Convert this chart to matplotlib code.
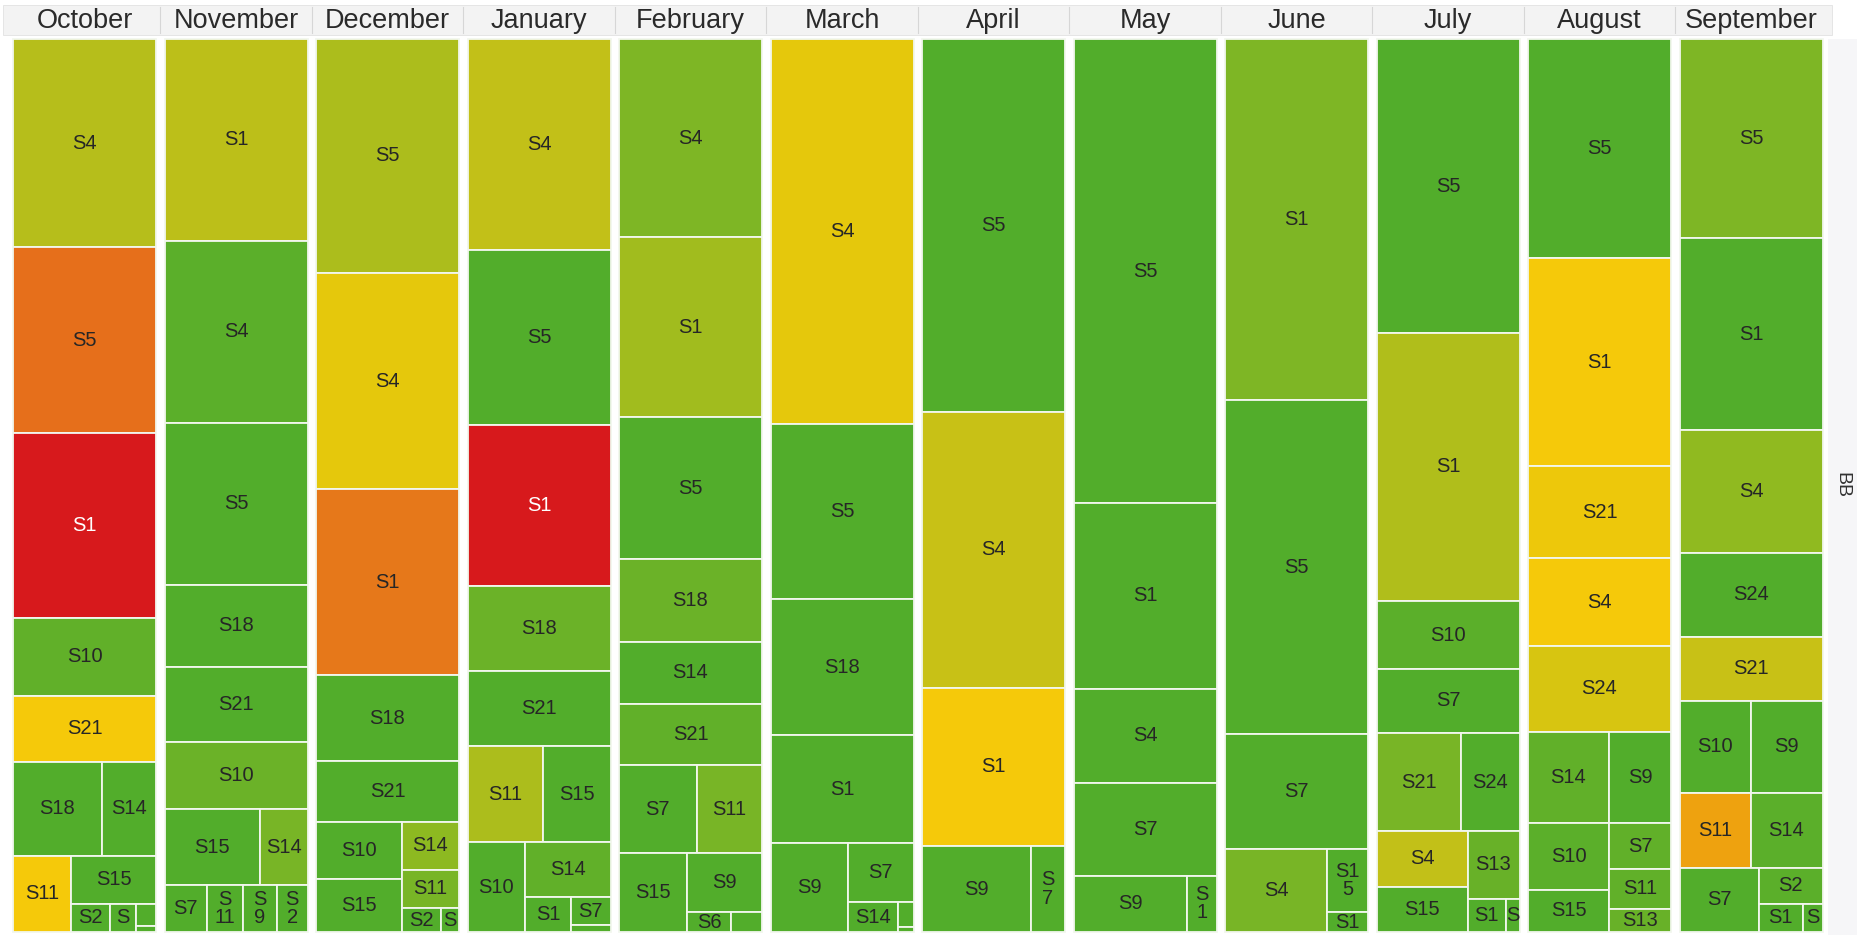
import matplotlib
matplotlib.use('Agg')
import matplotlib.pyplot as plt
from matplotlib.patches import Rectangle
from matplotlib.colors import LinearSegmentedColormap

plt.rcParams['font.family'] = ['Liberation Sans', 'DejaVu Sans']

months = ['October', 'November', 'December', 'January', 'February', 'March',
          'April', 'May', 'June', 'July', 'August', 'September']
row_header = 'BB'

# treemap per month: (label, size, score); lists alternate stacking direction
# (top level stacks downwards, next level side by side, and so on)
october = [
    ('S4', 29744, 0.69), ('S5', 26598, 0.15), ('S1', 26312, 0.0),
    ('S10', 11154, 0.95), ('S21', 9438, 0.40),
    [('S18', 8366, 1.0), ('S14', 5076, 1.0)],
    [('S11', 4408, 0.40),
     [('S15', 4080, 1.0), [('S2', 1092, 1.0), ('S', 728, 1.0), [('', 440, 1.0), ('', 120, 1.0)]]]],
]
november = [
    ('S1', 28743, 0.66), ('S4', 25883, 0.97), ('S5', 23166, 1.0),
    ('S18', 11583, 1.0), ('S21', 10725, 1.0), ('S10', 9581, 0.92),
    [('S15', 7238, 1.0), ('S14', 3619, 0.88)],
    [('S7', 1974, 1.0), ('S\n11', 1645, 1.0), ('S\n9', 1598, 1.0), ('S\n2', 1410, 1.0)],
]
december = [
    ('S5', 33462, 0.72), ('S4', 31031, 0.5), ('S1', 26598, 0.2),
    ('S18', 12298, 1.0), ('S21', 8723, 1.0),
    [[('S10', 4930, 1.0), ('S15', 4505, 1.0)],
     [('S14', 2736, 0.81), ('S11', 2223, 0.88), [('S2', 936, 1.0), ('S', 432, 1.0)]]],
]
january = [
    ('S4', 30173, 0.63), ('S5', 24882, 1.0), ('S1', 23023, 0.0),
    ('S18', 12155, 0.92), ('S21', 10725, 1.0),
    [('S11', 7275, 0.72), ('S15', 6499, 1.0)],
    [('S10', 5130, 1.0),
     [('S14', 4675, 0.95), [('S1', 1610, 1.0), [('S7', 1092, 1.0), ('', 273, 1.0)]]]],
]
february = [
    ('S4', 28314, 0.86), ('S1', 25740, 0.75), ('S5', 20163, 1.0),
    ('S18', 11869, 0.92), ('S14', 8866, 1.0), ('S21', 8723, 0.95),
    [('S7', 6853, 1.0), ('S11', 5785, 0.88)],
    [('S15', 5372, 1.0), [('S9', 4366, 1.0), [('S6', 860, 1.0), ('', 620, 1.0)]]],
]
march = [
    ('S4', 55055, 0.5), ('S5', 25025, 1.0), ('S18', 19448, 1.0), ('S1', 15301, 1.0),
    [('S9', 6930, 1.0), [('S7', 3900, 1.0), [('S14', 1500, 1.0), [('', 375, 1.0), ('', 75, 1.0)]]]],
]
april = [
    ('S5', 53196, 1.0), ('S4', 39468, 0.6), ('S1', 22594, 0.4),
    [('S9', 9309, 1.0), ('S\n7', 2958, 1.0)],
]
may = [
    ('S5', 66352, 1.0), ('S1', 26455, 1.0), ('S4', 13442, 1.0), ('S7', 13299, 1.0),
    [('S9', 6384, 1.0), ('S\n1', 1653, 1.0)],
]
june = [
    ('S1', 51623, 0.86), ('S5', 47619, 1.0), ('S7', 16445, 1.0),
    [('S4', 8484, 0.88), [('S1\n5', 2560, 1.0), ('S1', 800, 1.0)]],
]
july = [
    ('S5', 42042, 1.0), ('S1', 38324, 0.71), ('S10', 9724, 0.97), ('S7', 9152, 1.0),
    [('S21', 8232, 0.88), ('S24', 5782, 1.0)],
    [[('S4', 5096, 0.63), ('S15', 4095, 1.0)],
     [('S13', 3536, 0.93), [('S1', 1254, 1.0), ('S', 462, 1.0)]]],
]
august = [
    ('S5', 31317, 1.0), ('S1', 29744, 0.4), ('S21', 13156, 0.45),
    ('S4', 12584, 0.4), ('S24', 12298, 0.55),
    [('S14', 7371, 0.95), ('S9', 5642, 1.0)],
    [[('S10', 5427, 0.97), ('S15', 3402, 1.0)],
     [('S7', 2852, 0.95), ('S11', 2480, 0.95), ('S13', 1426, 0.93)]],
]
september = [
    ('S5', 28457, 0.86), ('S1', 27456, 1.0), ('S4', 17589, 0.8),
    ('S24', 12012, 1.0), ('S21', 9152, 0.6),
    [('S10', 6532, 1.0), ('S9', 6624, 1.0)],
    [('S11', 5325, 0.3), ('S14', 5400, 0.97)],
    [('S7', 5056, 1.0), [('S2', 2304, 0.97), [('S1', 1232, 1.0), ('S', 560, 1.0)]]],
]
trees = [october, november, december, january, february, march,
         april, may, june, july, august, september]

cmap = LinearSegmentedColormap.from_list('ryg', [
    (0.00, '#d7191c'), (0.15, '#e6701b'), (0.22, '#e67b19'), (0.30, '#eea30f'),
    (0.40, '#f5c90a'), (0.50, '#e6c80c'), (0.60, '#c8c116'), (0.70, '#b4be1b'),
    (0.80, '#90ba20'), (0.88, '#79b526'), (1.00, '#52ad2b')])


def size(node):
    if isinstance(node, list):
        return sum(size(c) for c in node)
    return node[1]


def layout(node, x, y, w, h, vertical, out):
    total = size(node)
    pos = 0.0
    for c in node:
        frac = size(c) / total
        if vertical:
            box = (x, y + pos * h, w, frac * h)
        else:
            box = (x + pos * w, y, frac * w, h)
        pos += frac
        if isinstance(c, list):
            layout(c, *box, not vertical, out)
        else:
            out.append((c, box))


W, H = 1857, 935
fig = plt.figure(figsize=(W / 100, H / 100), dpi=100)
ax = fig.add_axes([0, 0, 1, 1])
ax.set_xlim(0, W)
ax.set_ylim(H, 0)
ax.axis('off')

left0, pitch, pane_w = 13, 151.5, 143
top, bottom = 39, 932
head_top, head_bot = 5, 35
right_edge = left0 + pitch * (len(months) - 1) + pane_w

# header band and right strip
ax.add_patch(Rectangle((3, head_top), right_edge + 6, head_bot - head_top,
                       facecolor='#f3f3f3', edgecolor='#e2e2e2', lw=0.6))
ax.add_patch(Rectangle((right_edge + 5, top), W - right_edge - 5, H - top,
                       facecolor='#f6f6f8', edgecolor='none'))
ax.text((right_edge + 5 + W) / 2, (top + bottom) / 2, row_header, rotation=270,
        ha='center', va='center', fontsize=14, color='#333333')

for i, (month, tree) in enumerate(zip(months, trees)):
    x0 = left0 + i * pitch
    ax.text(x0 + pane_w / 2, (head_top + head_bot) / 2 + 1, month,
            ha='center', va='center', fontsize=19.5, color='#2a2a2a')
    if i > 0:
        ax.plot([x0 - (pitch - pane_w) / 2] * 2, [head_top + 2, head_bot - 2],
                color='#d6d6d6', lw=0.8)
    cells = []
    layout(tree, x0, top, pane_w, bottom - top, True, cells)
    for (label, val, score), (cx, cy, cw, ch) in cells:
        ax.add_patch(Rectangle((cx, cy), cw, ch, facecolor=cmap(score),
                               edgecolor='#f2f7ee', lw=1.3))
        if label:
            ax.text(cx + cw / 2, cy + ch / 2, label, ha='center', va='center',
                    fontsize=14.5, linespacing=0.95,
                    color='white' if score < 0.08 else '#262626')

fig.savefig('out.png', dpi=100)
